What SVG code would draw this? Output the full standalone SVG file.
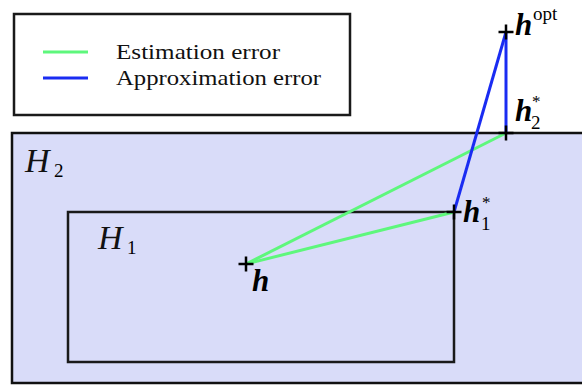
<svg xmlns="http://www.w3.org/2000/svg" width="582" height="388" viewBox="0 0 582 388">
<style>
.box{fill:none;stroke:#1a1a1a;stroke-width:2.5}
.set{fill:#d9dcf9;stroke:#111;stroke-width:2.5}
.est{stroke:#5ef77c;stroke-width:3;fill:none}
.app{stroke:#1a2cf2;stroke-width:3;fill:none}
.cross{stroke:#000;stroke-width:2.5;fill:none}
text{font-family:"Liberation Serif","DejaVu Serif",serif}
.t{font-size:21px;fill:#111}
.hb{font-weight:bold;font-style:italic;font-size:31px;fill:#000}
.sub{font-size:19px;fill:#000}
.st{font-size:17px;fill:#000}
.cal{font-style:italic;font-size:34px;fill:#111}
</style>
<g id="H2"><rect class="set" x="12" y="133" width="580" height="250"/>
<text class="cal" x="25" y="172">H</text><text class="sub" x="54" y="177" font-size="22">2</text></g>
<g id="H1"><rect class="box" x="68" y="212" width="386" height="150"/>
<text class="cal" x="98" y="249">H</text><text class="sub" x="127" y="254" font-size="22">1</text></g>
<g id="legend"><rect fill="#fff" class="box" x="14" y="14" width="336" height="101"/>
<line class="est" x1="43" y1="52" x2="88" y2="52"/><line class="app" x1="43" y1="78" x2="88" y2="78"/>
<text class="t" x="116" y="59" textLength="164" lengthAdjust="spacingAndGlyphs">Estimation error</text><text class="t" x="116" y="85" textLength="205" lengthAdjust="spacingAndGlyphs">Approximation error</text></g>
<g id="connectors">
<line class="est" x1="246" y1="264" x2="454" y2="212"/>
<line class="est" x1="246" y1="264" x2="506" y2="133"/>
<line class="app" x1="506" y1="32" x2="506" y2="133"/>
<line class="app" x1="506" y1="32" x2="454" y2="212"/>
</g>
<g id="h"><path class="cross" d="M238.5 264h15M246 256.5v15"/><text class="hb" x="252" y="291">h</text></g>
<g id="h1"><path class="cross" d="M446.5 212h15M454 204.5v15"/><text class="hb" x="463" y="222">h</text><text class="st" x="482" y="208">*</text><text class="sub" x="481" y="230" font-size="18">1</text></g>
<g id="h2"><path class="cross" d="M498.5 133h15M506 125.5v15"/><text class="hb" x="515" y="121">h</text><text class="st" x="532" y="107">*</text><text class="sub" x="531" y="129" font-size="18">2</text></g>
<g id="hopt"><path class="cross" d="M498.5 32h15M506 24.5v15"/><text class="hb" x="515" y="35">h</text><text class="sub" x="533" y="20">opt</text></g>
</svg>
